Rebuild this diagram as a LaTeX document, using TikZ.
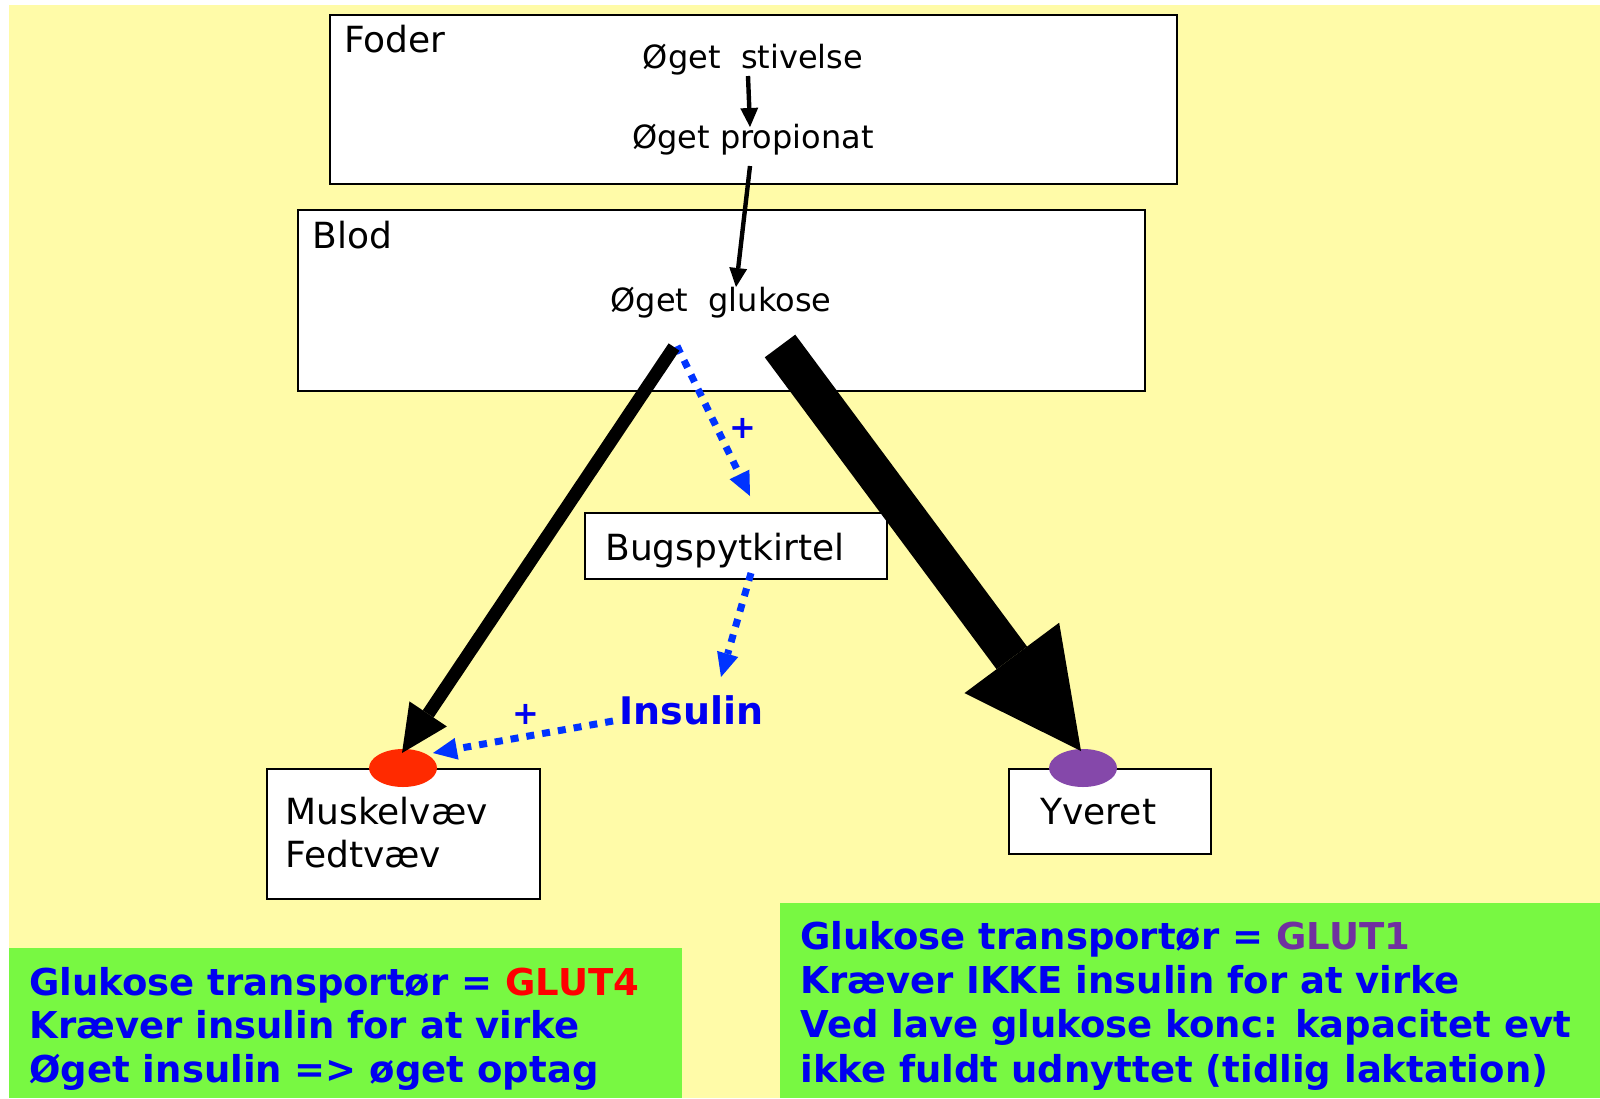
\documentclass[tikz,border=0pt]{standalone}
\usepackage{fontspec}
\setmainfont{DejaVu Sans}
\usetikzlibrary{arrows.meta,shapes.geometric}
\definecolor{bgyellow}{RGB}{255,251,168}
\definecolor{bggreen}{RGB}{120,248,66}
\definecolor{tblue}{RGB}{0,0,240}
\definecolor{dblue}{RGB}{0,51,255}
\definecolor{glutred}{RGB}{255,0,0}
\definecolor{glutpurple}{RGB}{112,48,160}
\definecolor{ellred}{RGB}{255,42,0}
\definecolor{ellpurple}{RGB}{133,72,170}
\tikzset{
  box/.style={draw=black, line width=1pt, fill=white, anchor=north west, inner sep=0pt},
  lbl/.style={anchor=base west, inner sep=0pt, font=\fontsize{18}{21.6}\selectfont},
  innertxt/.style={anchor=base, inner sep=0pt, font=\fontsize{16}{19}\selectfont},
  gtext/.style={anchor=base west, inner sep=0pt, text=tblue, font=\bfseries\fontsize{18.5}{22}\selectfont},
  plus/.style={inner sep=0pt, text=tblue, font=\bfseries\fontsize{16}{19}\selectfont},
  transp/.style={ellipse, inner sep=0pt, draw=none, minimum width=34pt, minimum height=19pt},
  thinflow/.style={draw=black, line width=2.2pt, -{Triangle[length=9.5pt,width=9pt,line width=0pt]}},
  muscleflow/.style={draw=black, line width=6.5pt, -{Triangle[length=23.5pt,width=22.5pt,line width=0pt]}},
  udderflow/.style={draw=black, line width=19pt, -{Triangle[length=58pt,width=59pt,line width=0pt]}},
  insflow/.style={draw=dblue, line width=3.5pt, dash pattern=on 4pt off 4pt, -{Triangle[length=12pt,width=11pt,line width=0pt]}}
}
\begin{document}
\begin{tikzpicture}[x=0.5pt,y=-0.5pt]
\useasboundingbox (0,0) rectangle (1600,1098);
% background
\fill[white] (0,0) rectangle (1600,1098);
\fill[bgyellow] (9,5) rectangle (1600,1098);
\fill[bggreen] (9,948) rectangle (682,1098);
\fill[bggreen] (780,903) rectangle (1600,1098);

% boxes
\node[box, minimum width=423.5pt, minimum height=84.5pt] (foder) at (329,14) {};
\node[box, minimum width=423.5pt, minimum height=90.5pt] (blod) at (297,209) {};
\node[box, minimum width=151pt, minimum height=33pt] (bug) at (584,512) {};
\node[box, minimum width=136.5pt, minimum height=65pt] (muskel) at (266,768) {};
\node[box, minimum width=101pt, minimum height=42.5pt] (yver) at (1008,768) {};

% transporters
\node[transp, fill=ellred] (glut4) at (403,768) {};
\node[transp, fill=ellpurple] (glut1) at (1083,768) {};

% labels
\node[lbl] (lfoder) at (344,52) {Foder};
\node[lbl] (lblod) at (312,248) {Blod};
\node[lbl] (lbug) at (605,560) {Bugspytkirtel};
\node[lbl] (lmusk) at (285,824) {Muskelvæv};
\node[lbl] (lfedt) at (285,867) {Fedtvæv};
\node[lbl] (lyver) at (1040,824) {Yveret};
\node[innertxt] (stiv) at (753,68) {Øget~ stivelse};
\node[innertxt] (prop) at (753,148) {Øget propionat};
\node[innertxt] (gluk) at (721,311) {Øget~ glukose};
\node[anchor=base west, inner sep=0pt, text=tblue, font=\bfseries\fontsize{19}{22}\selectfont] (ins) at (619,724) {Insulin};
\node[plus] (plus1) at (743,428) {+};
\node[plus] (plus2) at (526,714) {+};

% green texts
\node[gtext] (g4a) at (29,995) {Glukose transportør = \textcolor{glutred}{GLUT4}};
\node[gtext] (g4b) at (29,1038) {Kræver insulin for at virke};
\node[gtext] (g4c) at (29,1082) {Øget insulin => øget optag};
\node[gtext] (g1a) at (800,949) {Glukose transportør = \textcolor{glutpurple}{GLUT1}};
\node[gtext] (g1b) at (800,993) {Kræver IKKE insulin for at virke};
\node[gtext] (g1c) at (800,1037) {Ved lave glukose konc: kapacitet evt};
\node[gtext] (g1d) at (800,1082) {ikke fuldt udnyttet (tidlig laktation)};

% connector end points
\coordinate (stivout) at (748,76);
\coordinate (propin) at (750,127);
\coordinate (propout) at (750,166);
\coordinate (glukin) at (736,287);
\coordinate (glukleft) at (674,347);
\coordinate (glukdot) at (677,346);
\coordinate (glukright) at (780,346);
\coordinate (bugin) at (750,496);
\coordinate (bugout) at (751,573);
\coordinate (insin) at (721,677);
\coordinate (insout) at (613,721);
\coordinate (glut4top) at (402,753);
\coordinate (glut4side) at (433,753);
\coordinate (glut1top) at (1081,751);

% connectors
\draw[thinflow] (stivout) -- (propin);
\draw[thinflow] (propout) -- (glukin);
\draw[insflow] (glukdot) -- (bugin);
\draw[insflow] (bugout) -- (insin);
\draw[insflow] (insout) -- (glut4side);
\draw[muscleflow] (glukleft) -- (glut4top);
\draw[udderflow] (glukright) -- (glut1top);
\end{tikzpicture}
\end{document}
